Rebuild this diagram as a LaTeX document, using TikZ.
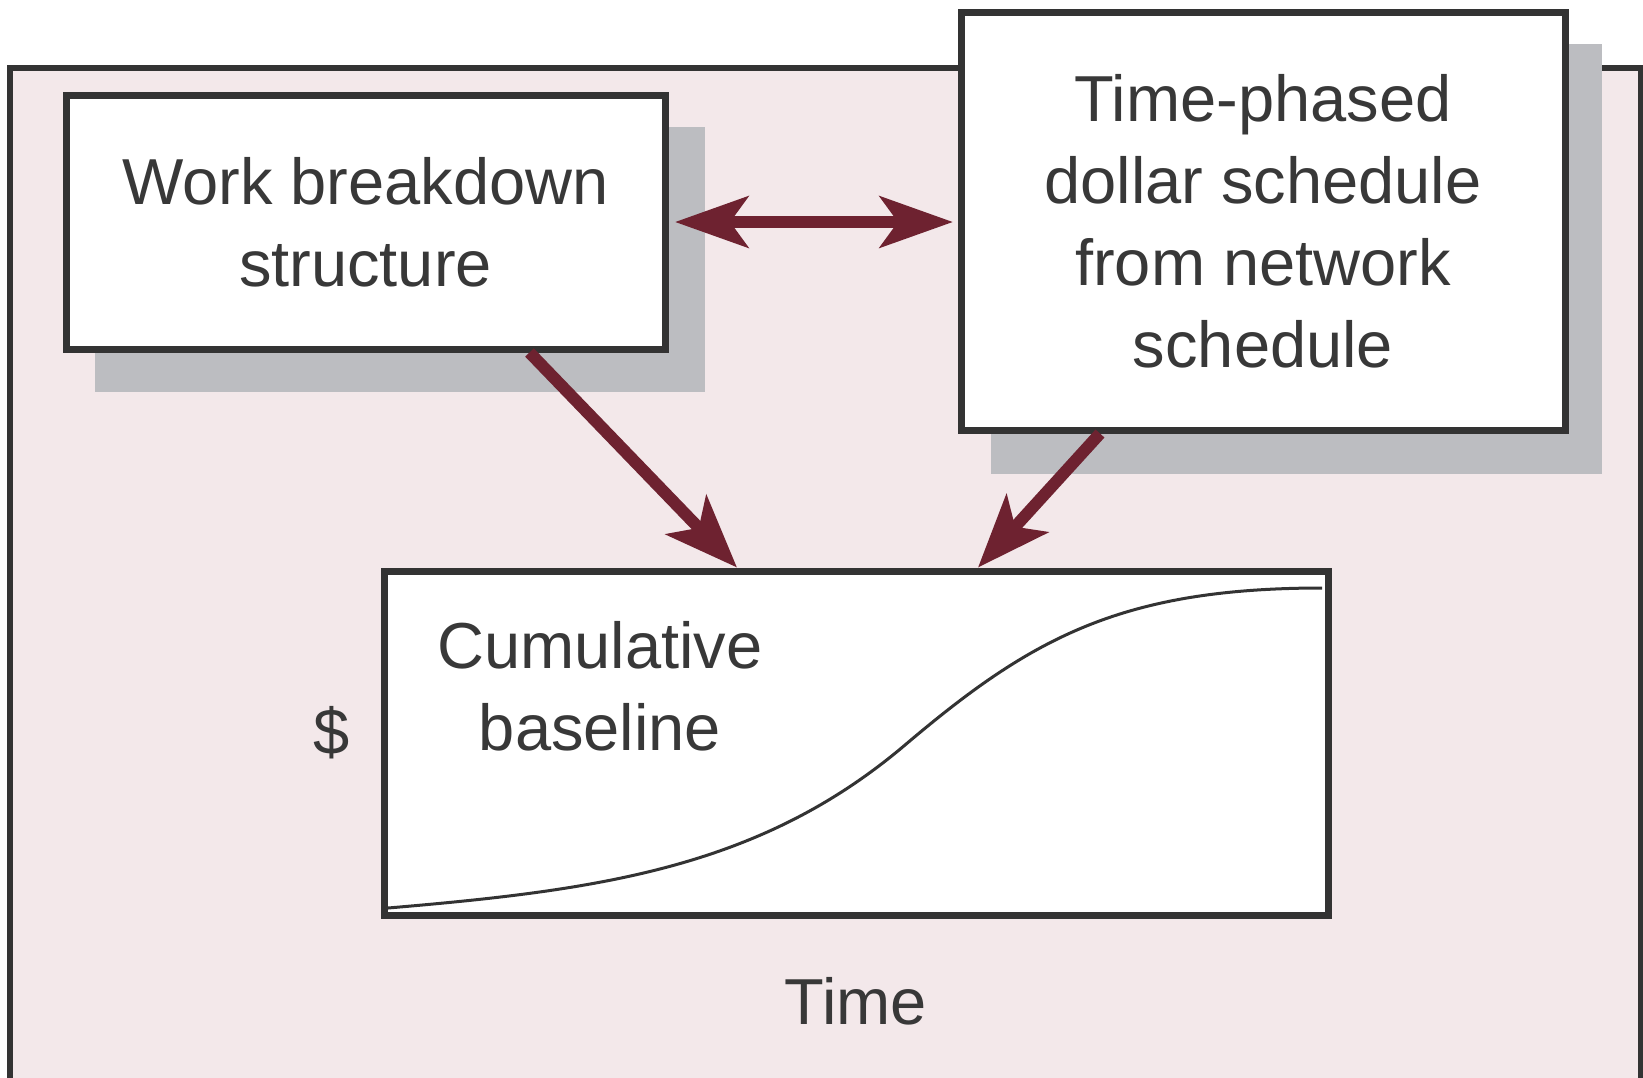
\documentclass[tikz,border=0pt]{standalone}
\usepackage{fontspec}
\setmainfont{Liberation Sans}
\usetikzlibrary{arrows.meta,calc}
\definecolor{bgpink}{HTML}{F3E8EA}
\definecolor{shadowgray}{HTML}{BCBDC1}
\definecolor{edgegray}{HTML}{333333}
\definecolor{arrowred}{HTML}{6E2230}
\definecolor{txtgray}{HTML}{383838}
\pgfdeclarelayer{back}
\pgfdeclarelayer{shade}
\pgfsetlayers{back,shade,main}
\begin{document}
\begin{tikzpicture}[x=1pt,y=-1pt,
  bigfont/.style={font=\fontsize{65}{82}\selectfont},
  box/.style={draw=edgegray, line width=7pt, fill=white, inner sep=0pt,
    align=center, text=txtgray, bigfont},
  plain/.style={inner sep=0pt, align=center, text=txtgray, bigfont},
  arr/.style={draw=arrowred, line width=12pt,
    -{Stealth[length=73pt,width=56pt,inset=18pt]}},
  dblarr/.style={draw=arrowred, line width=12pt,
    {Stealth[length=73pt,width=51pt,inset=18pt]}-{Stealth[length=73pt,width=51pt,inset=18pt]}},
  shadowfill/.style={fill=shadowgray},
  curveline/.style={draw=edgegray, line width=3pt}]
\useasboundingbox (0,0) rectangle (1643,1077);
\begin{pgfonlayer}{back}
  \draw[fill=bgpink, draw=edgegray, line width=6pt] (10,68) rectangle (1641,1082);
\end{pgfonlayer}

\node[box, minimum width=599pt, minimum height=254pt] (wbs) at (365.5,222)
  {Work breakdown\\structure};
\node[box, minimum width=604pt, minimum height=418pt] (tp) at (1263,221)
  {Time-phased\\dollar schedule\\from network\\schedule};
\node[box, minimum width=944pt, minimum height=344pt] (cum) at (856,743) {};

\begin{pgfonlayer}{shade}
  \fill[shadowfill] ($(wbs.north west)+(32,35)$) rectangle ($(wbs.south east)+(36,39)$);
  \fill[shadowfill] ($(tp.north west)+(33,35)$) rectangle ($(tp.south east)+(33,40)$);
\end{pgfonlayer}

\node[plain] (cumtxt) at (600,686) {Cumulative\\baseline};
\node[plain, anchor=base] (dollar) at (332,754) {\$};
\node[plain, anchor=base] (time) at (856,1024) {Time};

\draw[curveline] (388,908) .. controls (600,890) and (760,868) .. (905,745)
  .. controls (1030,639) and (1120,588) .. (1322,588);

\draw[dblarr, shorten <=6.5pt, shorten >=4.5pt] (wbs.east) -- (wbs.east -| tp.west);
\draw[arr] ([xshift=164pt]wbs.south) -- ([xshift=-119pt]cum.north);
\draw[arr] ([xshift=-163pt]tp.south) -- ([xshift=122pt]cum.north);
\end{tikzpicture}
\end{document}
